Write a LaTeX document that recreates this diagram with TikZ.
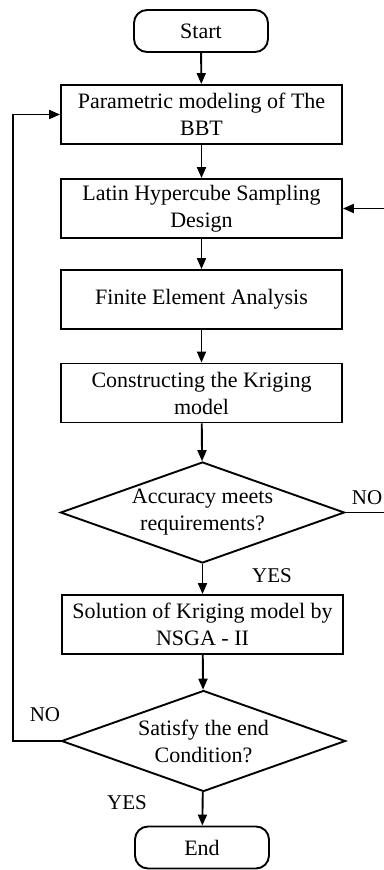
\documentclass[tikz,border=0pt]{standalone}
\usepackage{fontspec}
\setmainfont{Liberation Serif}
\usetikzlibrary{arrows.meta,shapes.geometric}
\begin{document}
\begin{tikzpicture}[x=1pt,y=-1pt,
  every node/.style={font=\fontsize{22}{27}\selectfont, inner sep=0pt},
  procbox/.style={draw, line width=1.9pt, rectangle, minimum width=281pt, minimum height=59pt, align=center},
  termbox/.style={draw, line width=1.9pt, rectangle, rounded corners=13pt, minimum width=134pt, minimum height=42pt},
  decbox/.style={draw, line width=1.9pt, diamond, aspect=2.8, minimum width=284pt, minimum height=101pt, align=center},
  lbl/.style={font=\fontsize{21}{24}\selectfont},
  conn/.style={line width=1.9pt, -{Triangle[length=11pt,width=9pt]}}
]
\useasboundingbox (0,0) rectangle (383,870);
\node[termbox] (start) at (201,31) {Start};
\node[procbox] (b1) at (201.5,114.5) {Parametric modeling of The\\BBT};
\node[procbox] (b2) at (201.5,208.5) {Latin Hypercube Sampling\\Design};
\node[procbox] (b3) at (201.5,299.5) {Finite Element Analysis};
\node[procbox] (b4) at (201.5,393) {Constructing the Kriging\\model};
\node[decbox] (d1) at (202.5,512.5) {Accuracy meets\\requirements?};
\node[procbox] (b5) at (202.5,624.5) {Solution of Kriging model by\\NSGA - II};
\node[decbox] (d2) at (203.5,741) {Satisfy the end\\Condition?};
\node[termbox] (end) at (202,847.5) {End};

\coordinate (r1) at (388,512.5);
\coordinate (r2) at (388,208.5);
\coordinate (l1) at (13,741);
\coordinate (l2) at (13,114.5);

\draw[conn] (start) -- (b1);
\draw[conn] (b1) -- (b2);
\draw[conn] (b2) -- (b3);
\draw[conn] (b3) -- (b4);
\draw[conn] (b4) -- (d1);
\draw[conn] (d1) -- (b5);
\draw[conn] (b5) -- (d2);
\draw[conn] (d2) -- (end);
\draw[conn] (d1.east) -- (r1) -- (r2) -- (b2.east);
\draw[conn] (d2.west) -- (l1) -- (l2) -- (b1.west);

\node[lbl] (no1) at (367,498) {NO};
\node[lbl] (yes1) at (272,576) {YES};
\node[lbl] (no2) at (45,715) {NO};
\node[lbl] (yes2) at (127,803) {YES};
\end{tikzpicture}
\end{document}
